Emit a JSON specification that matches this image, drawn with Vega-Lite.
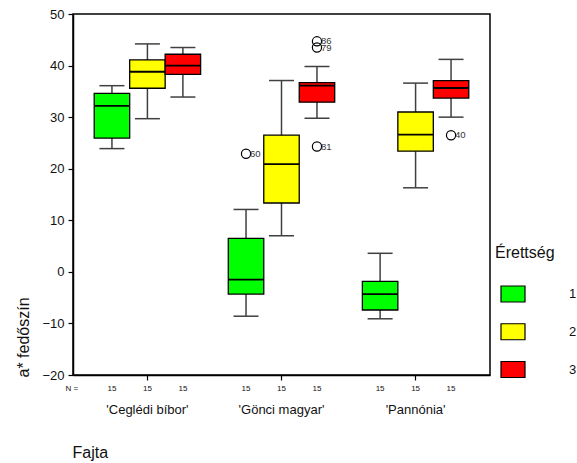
{
  "$schema": "https://vega.github.io/schema/vega-lite/v6.json",
  "width": 417,
  "height": 361,
  "autosize": {"type": "none"},
  "padding": {"left": 73, "top": 14, "right": 87, "bottom": 88},
  "background": "white",
  "config": {
    "font": "Liberation Sans",
    "view": {"stroke": "black", "strokeWidth": 1.5},
    "axis": {"grid": false, "domainColor": "black", "domainWidth": 1.5, "tickColor": "black", "tickWidth": 1.2, "labelColor": "#111", "titleColor": "#111", "labelFont": "Liberation Sans", "titleFont": "Liberation Sans", "titleFontWeight": "normal"},
    "legend": {"titleFont": "Liberation Sans", "labelFont": "Liberation Sans"}
  },
  "datasets": {
    "boxes": [
      {"fajta": "'Ceglédi bíbor'", "erettseg": "1", "lower": 23.9, "q1": 25.95, "median": 32.2, "q3": 34.6, "upper": 36.1},
      {"fajta": "'Ceglédi bíbor'", "erettseg": "2", "lower": 29.7, "q1": 35.6, "median": 38.8, "q3": 41.1, "upper": 44.2},
      {"fajta": "'Ceglédi bíbor'", "erettseg": "3", "lower": 33.9, "q1": 38.3, "median": 40.0, "q3": 42.2, "upper": 43.5},
      {"fajta": "'Gönci magyar'", "erettseg": "1", "lower": -8.6, "q1": -4.3, "median": -1.5, "q3": 6.5, "upper": 12.1},
      {"fajta": "'Gönci magyar'", "erettseg": "2", "lower": 7.0, "q1": 13.35, "median": 20.9, "q3": 26.5, "upper": 37.1},
      {"fajta": "'Gönci magyar'", "erettseg": "3", "lower": 29.8, "q1": 32.9, "median": 36.1, "q3": 36.7, "upper": 39.8},
      {"fajta": "'Pannónia'", "erettseg": "1", "lower": -9.1, "q1": -7.4, "median": -4.3, "q3": -1.85, "upper": 3.6},
      {"fajta": "'Pannónia'", "erettseg": "2", "lower": 16.3, "q1": 23.4, "median": 26.6, "q3": 31.0, "upper": 36.6},
      {"fajta": "'Pannónia'", "erettseg": "3", "lower": 30.0, "q1": 33.7, "median": 35.65, "q3": 37.1, "upper": 41.2}
    ],
    "outliers": [
      {"fajta": "'Gönci magyar'", "erettseg": "1", "value": 22.9, "case": "60"},
      {"fajta": "'Gönci magyar'", "erettseg": "3", "value": 44.7, "case": "86"},
      {"fajta": "'Gönci magyar'", "erettseg": "3", "value": 43.5, "case": "79"},
      {"fajta": "'Gönci magyar'", "erettseg": "3", "value": 24.3, "case": "81"},
      {"fajta": "'Pannónia'", "erettseg": "3", "value": 26.5, "case": "40"}
    ],
    "counts": [
      {"fajta": "'Ceglédi bíbor'", "erettseg": "1", "n": 15},
      {"fajta": "'Ceglédi bíbor'", "erettseg": "2", "n": 15},
      {"fajta": "'Ceglédi bíbor'", "erettseg": "3", "n": 15},
      {"fajta": "'Gönci magyar'", "erettseg": "1", "n": 15},
      {"fajta": "'Gönci magyar'", "erettseg": "2", "n": 15},
      {"fajta": "'Gönci magyar'", "erettseg": "3", "n": 15},
      {"fajta": "'Pannónia'", "erettseg": "1", "n": 15},
      {"fajta": "'Pannónia'", "erettseg": "2", "n": 15},
      {"fajta": "'Pannónia'", "erettseg": "3", "n": 15}
    ],
    "nlabel": [
      {"fajta": "'Ceglédi bíbor'", "erettseg": "1", "label": "N ="}
    ]
  },
  "encoding": {
    "x": {
      "field": "fajta", "type": "nominal",
      "scale": {"domain": ["'Ceglédi bíbor'", "'Gönci magyar'", "'Pannónia'"], "paddingInner": 0, "paddingOuter": 0.055},
      "title": "Fajta",
      "axis": {"labelAngle": 0, "labelFontSize": 13, "labelPadding": 23, "tickSize": 5, "titleFontSize": 16, "titleAnchor": "start", "titleAlign": "left", "titleBaseline": "middle", "titleX": -1, "titleY": 77}
    },
    "xOffset": {
      "field": "erettseg", "type": "nominal",
      "scale": {"domain": ["1", "2", "3"], "paddingInner": 0, "paddingOuter": 0.39}
    }
  },
  "layer": [
    {
      "data": {"name": "boxes"},
      "mark": {"type": "rule", "color": "#404040", "strokeWidth": 1.5},
      "encoding": {
        "y": {"field": "lower", "type": "quantitative", "title": "a* fedőszín",
          "scale": {"domain": [-20, 50], "nice": false, "zero": false},
          "axis": {"values": [-20, -10, 0, 10, 20, 30, 40, 50], "labelFontSize": 13, "tickSize": 5, "labelPadding": 4, "titleFontSize": 16, "titleAngle": -90, "titleX": -50, "titleY": 363, "titleAlign": "left", "titleBaseline": "middle"}},
        "y2": {"field": "upper"}
      }
    },
    {
      "data": {"name": "boxes"},
      "mark": {"type": "tick", "color": "#404040", "size": 25, "thickness": 1.5, "opacity": 1},
      "encoding": {"y": {"field": "lower", "type": "quantitative", "title": "a* fedőszín"}}
    },
    {
      "data": {"name": "boxes"},
      "mark": {"type": "tick", "color": "#404040", "size": 25, "thickness": 1.5, "opacity": 1},
      "encoding": {"y": {"field": "upper", "type": "quantitative", "title": "a* fedőszín"}}
    },
    {
      "data": {"name": "boxes"},
      "mark": {"type": "bar", "stroke": "black", "strokeWidth": 1.3, "opacity": 1},
      "encoding": {
        "y": {"field": "q1", "type": "quantitative", "title": "a* fedőszín"},
        "y2": {"field": "q3"},
        "fill": {"field": "erettseg", "type": "nominal", "title": "Érettség",
          "scale": {"domain": ["1", "2", "3"], "range": ["#00FF00", "#FFFF00", "#FF0000"]},
          "legend": {"orient": "none", "legendX": 422, "legendY": 231, "titleFontSize": 16, "titleFontWeight": "normal", "titleColor": "#111", "labelFontSize": 13, "labelColor": "#111", "symbolType": "M-1,-0.667L1,-0.667L1,0.667L-1,0.667Z", "symbolSize": 576, "symbolStrokeColor": "black", "symbolStrokeWidth": 1.2, "symbolOpacity": 1, "symbolOffset": 5, "labelOffset": 43, "rowPadding": 13.75, "titlePadding": 20}}
      }
    },
    {
      "data": {"name": "boxes"},
      "mark": {"type": "tick", "color": "black", "size": 35, "thickness": 1.8, "opacity": 1},
      "encoding": {"y": {"field": "median", "type": "quantitative", "title": "a* fedőszín"}}
    },
    {
      "data": {"name": "outliers"},
      "mark": {"type": "point", "shape": "circle", "size": 85, "stroke": "black", "strokeWidth": 1.2, "filled": false, "opacity": 1},
      "encoding": {"y": {"field": "value", "type": "quantitative", "title": "a* fedőszín"}}
    },
    {
      "data": {"name": "outliers"},
      "mark": {"type": "text", "align": "left", "baseline": "middle", "dx": 4, "fontSize": 9.5, "color": "#333"},
      "encoding": {
        "y": {"field": "value", "type": "quantitative", "title": "a* fedőszín"},
        "text": {"field": "case"}
      }
    },
    {
      "data": {"name": "counts"},
      "mark": {"type": "text", "align": "center", "baseline": "middle", "fontSize": 8, "color": "#111"},
      "encoding": {
        "y": {"datum": -22.62},
        "text": {"field": "n"}
      }
    },
    {
      "data": {"name": "nlabel"},
      "mark": {"type": "text", "align": "center", "baseline": "middle", "fontSize": 8, "color": "#111", "dx": -40},
      "encoding": {
        "y": {"datum": -22.62},
        "text": {"field": "label"}
      }
    }
  ]
}
